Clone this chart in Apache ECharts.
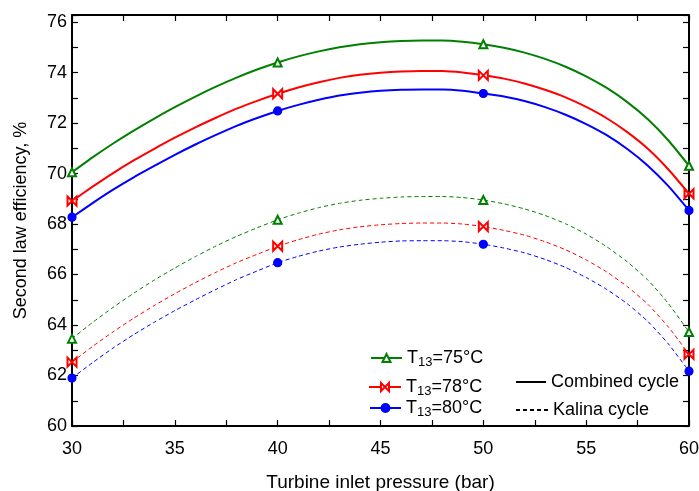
<!DOCTYPE html>
<html><head><meta charset="utf-8">
<script src="https://cdn.jsdelivr.net/npm/echarts@6/dist/echarts.min.js"></script>
<style>html,body{margin:0;padding:0;background:#fff}#c{width:699px;height:491px}</style>
</head><body><div id="c"></div>
<script>
// ---- data ----
const pressure = [30,31,32,33,34,35,36,37,38,39,40,41,42,43,44,45,46,47,48,49,50,51,52,53,54,55,56,57,58,59,60];
const combined75 = [70.05,70.64,71.19,71.70,72.18,72.63,73.05,73.44,73.80,74.12,74.40,74.64,74.84,75.00,75.12,75.20,75.25,75.27,75.27,75.22,75.12,74.98,74.79,74.54,74.23,73.85,73.39,72.83,72.15,71.31,70.31];
const combined78 = [68.91,69.48,70.02,70.52,70.98,71.42,71.83,72.21,72.57,72.88,73.16,73.41,73.62,73.79,73.91,73.99,74.04,74.06,74.06,74.00,73.89,73.76,73.57,73.32,73.02,72.64,72.19,71.64,70.98,70.16,69.20];
const combined80 = [68.27,68.83,69.36,69.85,70.30,70.74,71.15,71.53,71.89,72.20,72.48,72.72,72.92,73.09,73.20,73.28,73.32,73.33,73.33,73.28,73.17,73.05,72.87,72.63,72.33,71.96,71.52,70.97,70.31,69.50,68.54];
const kalina75 = [63.46,64.10,64.70,65.26,65.78,66.26,66.71,67.13,67.51,67.85,68.17,68.43,68.65,68.82,68.94,69.02,69.07,69.09,69.09,69.05,68.95,68.80,68.60,68.34,68.01,67.60,67.10,66.50,65.78,64.85,63.72];
const kalina78 = [62.53,63.15,63.73,64.27,64.77,65.24,65.68,66.09,66.47,66.80,67.12,67.38,67.60,67.77,67.89,67.97,68.02,68.04,68.04,68.00,67.90,67.75,67.56,67.30,66.98,66.58,66.10,65.52,64.82,63.92,62.84];
const kalina80 = [61.90,62.51,63.09,63.62,64.11,64.57,65.00,65.41,65.80,66.14,66.47,66.72,66.93,67.09,67.20,67.28,67.33,67.34,67.34,67.30,67.20,67.05,66.86,66.60,66.28,65.88,65.41,64.84,64.14,63.25,62.17];
const markerPressures = [30,40,50,60];
const xTickLabels = [30,35,40,45,50,55,60];
const yTickLabels = [60,62,64,66,68,70,72,74,76];
const seriesNames = ['T13=75°C','T13=78°C','T13=80°C'];
const cycleNames = ['Combined cycle','Kalina cycle'];

const FONT = 'Liberation Sans, Arial, sans-serif';
const GREEN = '#008000', RED = '#ff0000', BLUE = '#0000ff';
const BOWTIE = 'emptyPath://M0,0L10,10L10,0L0,10Z';

function mk(name, vals, color, symbol, size, dashed) {
  return {
    type: 'line', name: name,
    data: pressure.map((p, i) => [p, vals[i]]),
    symbol: symbol,
    symbolSize: v => markerPressures.indexOf(v[0]) >= 0 ? size : 0,
    showAllSymbol: true,
    smooth: 0.2,
    animation: false,
    lineStyle: { color: color, width: dashed ? 1 : 2, type: dashed ? [4, 3] : 'solid' },
    itemStyle: { color: color, borderColor: color, borderWidth: 1.2 },
    z: dashed ? 2 : 3
  };
}

const axisBase = {
  axisLine: { show: true, onZero: false, lineStyle: { color: '#000', width: 2 } },
  axisTick: { show: true, inside: true, length: 6, lineStyle: { color: '#000', width: 1.2 } },
  splitLine: { show: false }
};

const legendText = {
  fontFamily: FONT, fontSize: 18, color: '#000',
  rich: {
    n: { fontFamily: FONT, fontSize: 18, color: '#000' },
    s: { fontFamily: FONT, fontSize: 13, color: '#000', padding: [9, 0, 0, 0] }
  }
};
function fmt(name) {
  const m = name.match(/^T(\d+)(=.*)$/);
  if (m) return '{n|T}{s|' + m[1] + '}{n|' + m[2] + '}';
  return name;
}
function lg(name, left, top, w) {
  return { data: [name], left: left, top: top, orient: 'vertical', itemWidth: w, itemHeight: 10,
    selectedMode: false, formatter: fmt, textStyle: legendText, padding: 0 };
}

const chart = echarts.init(document.getElementById('c'), null, { renderer: 'canvas' });
chart.setOption({
  animation: false,
  backgroundColor: '#fff',
  grid: { left: 72, right: 10, top: 15, bottom: 65, show: false, containLabel: false, outerBoundsMode: 'none' },
  legend: [
    lg(seriesNames[0], 370, 349, 31),
    lg(seriesNames[1], 368, 378, 32),
    lg(seriesNames[2], 369, 399, 31),
    lg(cycleNames[0], 515, 373, 30),
    lg(cycleNames[1], 515, 401, 32)
  ],
  xAxis: [
    Object.assign({}, axisBase, {
      type: 'value', min: 30, max: 60, interval: 2.5, position: 'bottom',
      axisLabel: { fontFamily: FONT, fontSize: 18, color: '#000', margin: 14,
        formatter: v => xTickLabels.indexOf(v) >= 0 ? String(v) : '' },
      name: 'Turbine inlet pressure (bar)', nameLocation: 'middle', nameGap: 47,
      nameTextStyle: { fontFamily: FONT, fontSize: 19, color: '#000' }
    }),
    Object.assign({}, axisBase, {
      type: 'value', min: 30, max: 60, interval: 2.5, position: 'top',
      axisLabel: { show: false }
    })
  ],
  yAxis: [
    Object.assign({}, axisBase, {
      type: 'value', min: 60, max: 76.28, interval: 1, position: 'left',
      axisLabel: { fontFamily: FONT, fontSize: 18, color: '#000', margin: 5,
        formatter: v => yTickLabels.indexOf(v) >= 0 ? String(v) : '' },
      name: 'Second law efficiency, %', nameLocation: 'middle', nameGap: 42, nameRotate: 90,
      nameTextStyle: { fontFamily: FONT, fontSize: 18, color: '#000' }
    }),
    Object.assign({}, axisBase, {
      type: 'value', min: 60, max: 76.28, interval: 1, position: 'right',
      axisLabel: { show: false }
    })
  ],
  series: [
    mk(seriesNames[0], combined75, GREEN, 'emptyTriangle', 8, false),
    mk(seriesNames[1], combined78, RED, BOWTIE, 9, false),
    mk(seriesNames[2], combined80, BLUE, 'circle', 8, false),
    mk(seriesNames[0], kalina75, GREEN, 'emptyTriangle', 8, true),
    mk(seriesNames[1], kalina78, RED, BOWTIE, 9, true),
    mk(seriesNames[2], kalina80, BLUE, 'circle', 8, true),
    { type: 'line', name: cycleNames[0], data: [], symbol: 'none',
      lineStyle: { color: '#000', width: 1, type: 'solid' }, itemStyle: { color: 'rgba(0,0,0,0)' } },
    { type: 'line', name: cycleNames[1], data: [], symbol: 'none',
      lineStyle: { color: '#000', width: 1, type: [4, 3] }, itemStyle: { color: 'rgba(0,0,0,0)' } }
  ]
});
</script>
</body></html>
